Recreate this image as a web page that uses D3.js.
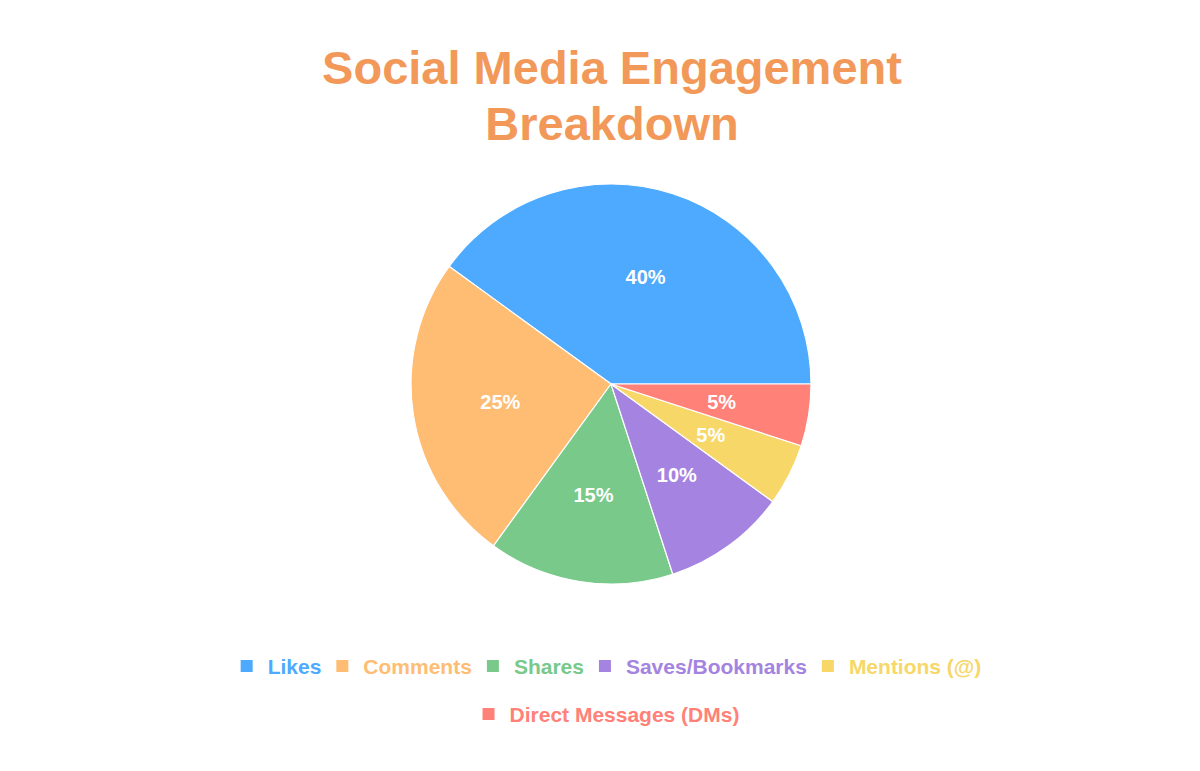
<!DOCTYPE html>
<html><head><meta charset="utf-8">
<script src="https://cdn.jsdelivr.net/npm/d3@7"></script>
<style>html,body{margin:0;padding:0;background:#fff;}svg{display:block;}</style>
</head><body>
<svg id="chart" width="1200" height="771"></svg>
<script>
const categories = ["Likes","Comments","Shares","Saves/Bookmarks","Mentions (@)","Direct Messages (DMs)"];
const values = [40,25,15,10,5,5];
const colors = ["#4DAAFF","#FFBD73","#78C98A","#A484E0","#F6D768","#FF8177"];
const titleLines = ["Social Media Engagement","Breakdown"];

const svg = d3.select("#chart");
const W = 1200, H = 771;
const cx = 611, cy = 384, R = 200;
const font = "'Liberation Sans', Arial, Helvetica, sans-serif";

svg.append("text").attr("text-anchor","middle").attr("font-family",font)
  .attr("font-weight","bold").attr("font-size",47).attr("fill","#F2995A")
  .selectAll("tspan").data(titleLines).join("tspan")
  .attr("x",612).attr("y",(d,i)=>84+i*56).text(d=>d);

const data = categories.map((c,i)=>({c, v:values[i], color:colors[i]}));
const pie = d3.pie().value(d=>d.v).sort(null)
  .startAngle(Math.PI/2).endAngle(Math.PI/2 - 2*Math.PI);
const arcs = pie(data);
const arc = d3.arc().innerRadius(0).outerRadius(R);
const labelArc = d3.arc().innerRadius(R*0.56).outerRadius(R*0.56);
const total = d3.sum(values);

const g = svg.append("g").attr("transform",`translate(${cx},${cy})`);
g.selectAll("path").data(arcs).join("path")
  .attr("d",arc).attr("fill",d=>d.data.color)
  .attr("stroke","#fff").attr("stroke-width",1.2);
g.selectAll("text").data(arcs).join("text")
  .attr("transform",d=>`translate(${labelArc.centroid(d)})`)
  .attr("text-anchor","middle").attr("dominant-baseline","central")
  .attr("font-family",font).attr("font-weight","bold").attr("font-size",20)
  .attr("fill","#fff")
  .text(d=>Math.round(d.data.v/total*100)+"%");

// legend
const lg = svg.append("g");
const fs = 21, box = 12, gapBox = 15, gapItem = 15, maxW = 820;
const items = data.map(d=>{
  const t = lg.append("text").attr("font-family",font).attr("font-weight","bold")
    .attr("font-size",fs).attr("fill",d.color).text(d.c);
  const w = t.node().getComputedTextLength();
  return {d, t, w: box+gapBox+w};
});
const rows = [[]]; let rw = 0;
items.forEach(it=>{
  const row = rows[rows.length-1];
  const add = (row.length? gapItem:0) + it.w;
  if (row.length && rw + add > maxW) { rows.push([it]); rw = it.w; }
  else { row.push(it); rw += add; }
});
rows.forEach((row,ri)=>{
  const tw = d3.sum(row,r=>r.w) + gapItem*(row.length-1);
  let x = cx - tw/2;
  const y = 666 + ri*48;
  row.forEach(it=>{
    lg.append("rect").attr("x",x).attr("y",y-box/2).attr("width",box).attr("height",box).attr("fill",it.d.color);
    it.t.attr("x",x+box+gapBox).attr("y",y).attr("dominant-baseline","central");
    x += it.w + gapItem;
  });
});
</script>
</body></html>
